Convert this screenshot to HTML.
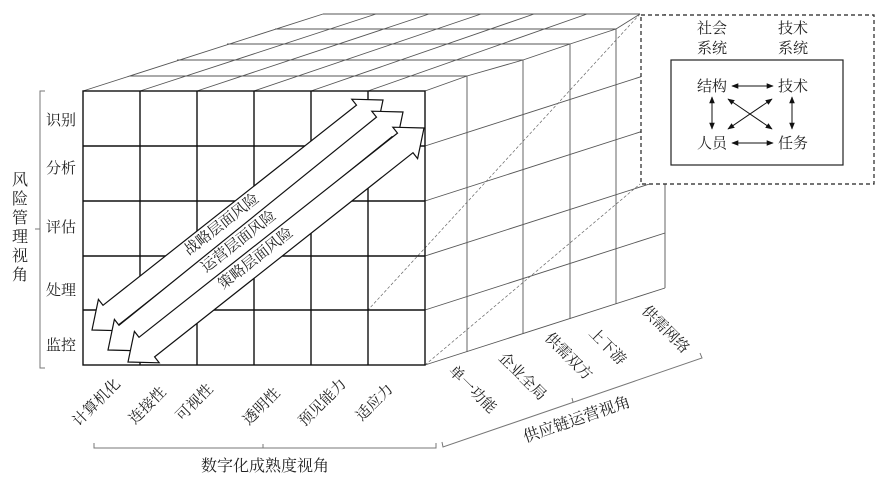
<!DOCTYPE html>
<html><head><meta charset="utf-8"><style>
html,body{margin:0;padding:0;background:#fff;}
svg{display:block;}
text{font-family:"Liberation Serif","Noto Serif CJK SC","Noto Sans CJK SC",serif;fill:#222;}
</style></head><body>
<svg width="883" height="477" viewBox="0 0 883 477" xmlns="http://www.w3.org/2000/svg">
<defs>
<marker id="ah" viewBox="0 0 10 10" refX="9" refY="5" markerWidth="7" markerHeight="7" orient="auto-start-reverse"><path d="M0,1 L10,5 L0,9 z" fill="#111"/></marker>
</defs>
<g stroke="#555" stroke-width="0.9" fill="none">
<line x1="323" y1="14" x2="640" y2="14"/>
<line x1="130" y1="76" x2="467" y2="76"/>
<line x1="177" y1="60" x2="523" y2="60"/>
<line x1="227" y1="44" x2="570" y2="44"/>
<line x1="275" y1="29" x2="616" y2="29"/>
<line x1="83" y1="91" x2="323" y2="14"/>
<line x1="140" y1="91" x2="376" y2="14"/>
<line x1="197" y1="91" x2="429" y2="14"/>
<line x1="254" y1="91" x2="481" y2="14"/>
<line x1="311" y1="91" x2="534" y2="14"/>
<line x1="368" y1="91" x2="587" y2="14"/>
<line x1="425" y1="91" x2="467" y2="76"/>
<line x1="467" y1="76" x2="523" y2="60"/>
<line x1="523" y1="60" x2="570" y2="44"/>
<line x1="570" y1="44" x2="616" y2="29"/>
<line x1="616" y1="29" x2="640" y2="14"/>
</g>
<g stroke="#555" stroke-width="0.9" fill="none">
<line x1="425" y1="146" x2="665" y2="69"/>
<line x1="425" y1="201" x2="665" y2="124"/>
<line x1="425" y1="256" x2="665" y2="179"/>
<line x1="425" y1="310" x2="665" y2="233"/>
<line x1="425" y1="365" x2="665" y2="288"/>
<line x1="467" y1="76" x2="467" y2="352"/>
<line x1="523" y1="60" x2="523" y2="334"/>
<line x1="570" y1="44" x2="570" y2="319"/>
<line x1="616" y1="29" x2="616" y2="304"/>
<line x1="665" y1="14" x2="665" y2="288"/>
</g>
<g stroke="#666" stroke-width="0.7" stroke-dasharray="3,2" fill="none">
<line x1="640" y1="14" x2="368" y2="310"/>
<line x1="425" y1="365" x2="640" y2="184"/>
</g>
<g stroke="#111" stroke-width="1.4" fill="none">
<rect x="83" y="91" width="342" height="274"/>
<line x1="140" y1="91" x2="140" y2="365"/>
<line x1="197" y1="91" x2="197" y2="365"/>
<line x1="254" y1="91" x2="254" y2="365"/>
<line x1="311" y1="91" x2="311" y2="365"/>
<line x1="368" y1="91" x2="368" y2="365"/>
<line x1="83" y1="146" x2="425" y2="146"/>
<line x1="83" y1="201" x2="425" y2="201"/>
<line x1="83" y1="256" x2="425" y2="256"/>
<line x1="83" y1="310" x2="425" y2="310"/>
</g>
<g fill="#fff" stroke="#111" stroke-width="1.2" stroke-linejoin="miter">
<polygon points="383,100 376.6,130.6 372,124.7 118.6,324.9 123.2,330.8 92,330 98.4,299.4 103,305.3 356.5,105.1 351.8,99.2"/>
<polygon points="403,112 396.6,142.6 392,136.7 134.6,344.9 139.2,350.8 108,350 114.4,319.4 119,325.3 376.5,117.1 371.8,111.2"/>
<polygon points="424,128 417.6,158.6 413,152.7 154.6,356.9 159.2,362.8 128,362 134.4,331.4 139,337.3 397.5,133.1 392.8,127.2"/>
</g>
<g font-size="15" text-anchor="middle">
<text transform="translate(222,225) rotate(-38)" dominant-baseline="central">战略层面风险</text>
<text transform="translate(239,242) rotate(-38)" dominant-baseline="central">运营层面风险</text>
<text transform="translate(256,259) rotate(-38)" dominant-baseline="central">策略层面风险</text>
</g>
<rect x="641" y="15" width="233" height="169" fill="#fff" stroke="#222" stroke-width="1.2" stroke-dasharray="4,3"/>
<rect x="671" y="60" width="172" height="105" fill="none" stroke="#222" stroke-width="1.2"/>
<g font-size="15" text-anchor="middle">
<text x="712" y="33">社会</text><text x="712" y="53">系统</text>
<text x="793" y="33">技术</text><text x="793" y="53">系统</text>
<text x="712" y="91">结构</text><text x="793" y="91">技术</text>
<text x="712" y="148">人员</text><text x="793" y="148">任务</text>
</g>
<g stroke="#111" stroke-width="1" marker-start="url(#ah)" marker-end="url(#ah)">
<line x1="732" y1="86" x2="773" y2="86"/>
<line x1="732" y1="143" x2="773" y2="143"/>
<line x1="712" y1="97" x2="712" y2="129"/>
<line x1="792" y1="97" x2="792" y2="129"/>
<line x1="728" y1="99" x2="772" y2="129"/>
<line x1="772" y1="99" x2="728" y2="129"/>
</g>
<g font-size="15" text-anchor="middle">
<text x="61" y="125">识别</text>
<text x="61" y="173">分析</text>
<text x="61" y="232">评估</text>
<text x="61" y="295">处理</text>
<text x="61" y="350">监控</text>
</g>
<path d="M45,91 L40,91 L40,229 L35,229 M40,229 L40,368 L45,368" fill="none" stroke="#777" stroke-width="1"/>
<g font-size="16" text-anchor="middle">
<text x="20" y="185">风</text><text x="20" y="204">险</text><text x="20" y="223">管</text>
<text x="20" y="242">理</text><text x="20" y="261">视</text><text x="20" y="280">角</text>
</g>
<g font-size="15" text-anchor="middle">
<text transform="translate(97,403) rotate(-45)" dominant-baseline="central">计算机化</text>
<text transform="translate(148,406) rotate(-45)" dominant-baseline="central">连接性</text>
<text transform="translate(195,403) rotate(-45)" dominant-baseline="central">可视性</text>
<text transform="translate(262,407) rotate(-45)" dominant-baseline="central">透明性</text>
<text transform="translate(323,403) rotate(-45)" dominant-baseline="central">预见能力</text>
<text transform="translate(375,403) rotate(-45)" dominant-baseline="central">适应力</text>
</g>
<path d="M94,443 L94,448 L436,448 L436,443 M263,448 L263,444" fill="none" stroke="#777" stroke-width="1"/>
<text x="265" y="471" font-size="16" text-anchor="middle">数字化成熟度视角</text>
<g font-size="15" text-anchor="middle">
<text transform="translate(472,390) rotate(45)" dominant-baseline="central">单一功能</text>
<text transform="translate(522,377) rotate(45)" dominant-baseline="central">企业全局</text>
<text transform="translate(568,357) rotate(45)" dominant-baseline="central">供需双方</text>
<text transform="translate(607,347) rotate(45)" dominant-baseline="central">上下游</text>
<text transform="translate(665,330) rotate(45)" dominant-baseline="central">供需网络</text>
</g>
<path d="M442,442 L443,447 L702,358 L700,353 M573,402 L572,398" fill="none" stroke="#777" stroke-width="1"/>
<text transform="translate(577,420) rotate(-19)" font-size="16" text-anchor="middle" dominant-baseline="central">供应链运营视角</text>
</svg>
</body></html>
